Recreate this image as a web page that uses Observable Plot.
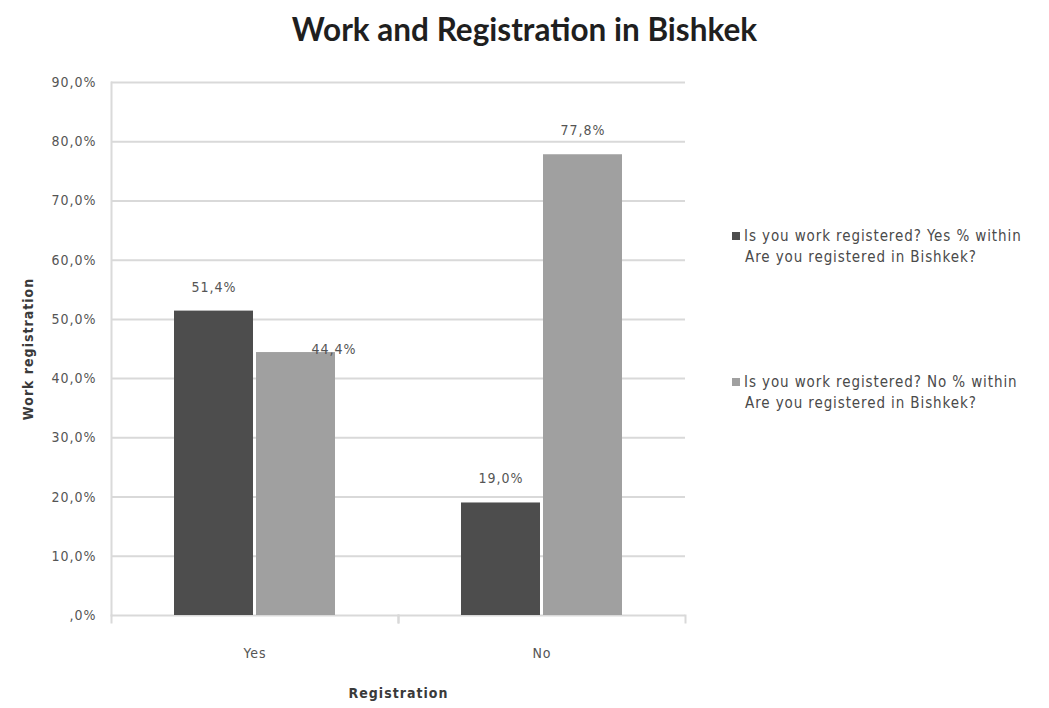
<!DOCTYPE html>
<html>
<head>
<meta charset="utf-8">
<script src="https://cdn.jsdelivr.net/npm/d3@7"></script>
<script src="https://cdn.jsdelivr.net/npm/@observablehq/plot@0.6"></script>
<style>
  html, body { margin: 0; padding: 0; background: #fff; }
  #wrap { position: relative; width: 1049px; height: 708px; overflow: hidden; }
  #title { position: absolute; left: 0; width: 1049px; top: 10px; text-align: center;
    font-family: Lato, "Open Sans", sans-serif; font-weight: bold; font-size: 31.5px; color: #1f1f1f; }
  .leg { position: absolute; left: 732px; font-family: "DejaVu Sans Condensed", "Liberation Sans Narrow", sans-serif;
    font-size: 15px; letter-spacing: 0.9px; color: #4a4a4a; line-height: 21px; }
  .leg .sw { display: inline-block; width: 8px; height: 8px; margin-right: 4px; vertical-align: 1px; }
  .leg .l2 { padding-left: 13px; }
  svg text { letter-spacing: 1px; }
</style>
</head>
<body>
<div id="wrap">
  <div id="title"></div>
  <div id="chart"></div>
  <div id="legend"></div>
</div>
<script>
const titleText = "Work and Registration in Bishkek";
const categories = ["Yes", "No"];
const seriesNames = ["Is you work registered? Yes % within", "Is you work registered? No % within"];
const seriesLine2 = "Are you registered in Bishkek?";
const seriesKeys = ["Yes", "No"];
const valuesYes = [51.4, 19.0]; // series "work registered: Yes" for Yes, No
const valuesNo = [44.4, 77.8];  // series "work registered: No" for Yes, No
const yTicks = [0, 10, 20, 30, 40, 50, 60, 70, 80, 90];
const colors = ["#4d4d4d", "#a0a0a0"];

const rows = [];
categories.forEach((c, i) => {
  rows.push({cat: c, s: seriesKeys[0], v: valuesYes[i]});
  rows.push({cat: c, s: seriesKeys[1], v: valuesNo[i]});
});
const fmt = d => (d === 0 ? ",0%" : d.toFixed(1).replace(".", ",") + "%");

document.getElementById("title").textContent = titleText;

const font = "'DejaVu Sans Condensed', 'Liberation Sans Narrow', sans-serif";
const labelMain = rows.filter(r => !(r.cat === "Yes" && r.s === "No"));
const labelShift = rows.filter(r => r.cat === "Yes" && r.s === "No");

const chart = Plot.plot({
  width: 1049,
  height: 708,
  marginTop: 82,
  marginBottom: 93,
  marginLeft: 110,
  marginRight: 364,
  style: {fontFamily: font, fontSize: "14px", color: "#555", background: "transparent"},
  fx: {domain: categories, padding: 0, label: null},
  x: {domain: seriesKeys, paddingInner: 0.04, paddingOuter: 0.77, axis: null},
  y: {domain: [0, 90], axis: null},
  color: {domain: seriesKeys, range: colors},
  marks: [
    Plot.ruleY(yTicks, {stroke: "#d9d9d9", strokeWidth: 2}),
    Plot.frame({anchor: "left", fx: () => categories[0], stroke: "#dadada", strokeWidth: 2}),
    Plot.frame({anchor: "left", stroke: "#d9d9d9", strokeWidth: 2, insetTop: 533, insetBottom: -7}),
    Plot.frame({anchor: "right", stroke: "#d9d9d9", strokeWidth: 2, insetTop: 533, insetBottom: -7}),
    Plot.axisY({ticks: yTicks, tickFormat: fmt, tickSize: 0, tickPadding: 15,
      label: null, fill: "#555", fontSize: 14}),
    Plot.axisY({ticks: [], label: "Work registration", labelAnchor: "center", labelArrow: "none", labelOffset: 88,
      fill: "#3a3a3a", fontSize: 14, fontWeight: "bold"}),
    Plot.axisFx({anchor: "bottom", tickSize: 0, tickPadding: 33, label: null, fill: "#555", fontSize: 14}),
    Plot.axisFx({anchor: "bottom", ticks: [], label: "Registration", labelAnchor: "center",
      labelArrow: "none", labelOffset: 82, fill: "#3a3a3a", fontSize: 14, fontWeight: "bold"}),
    Plot.barY(rows, {fx: "cat", x: "s", y: "v", fill: "s"}),
    Plot.text(labelMain, {fx: "cat", x: "s", y: "v", text: d => fmt(d.v), dy: -24, fill: "#555", fontSize: 14}),
    Plot.text(labelShift, {fx: "cat", x: "s", y: "v", text: d => fmt(d.v), dx: 38, dy: -3, fill: "#555", fontSize: 14})
  ]
});
document.getElementById("chart").appendChild(chart);

const leg = document.getElementById("legend");
[0, 1].forEach(i => {
  const d = document.createElement("div");
  d.className = "leg";
  d.style.top = (i === 0 ? 226 : 372) + "px";
  d.innerHTML = `<div><span class="sw" style="background:${colors[i]}"></span>${seriesNames[i]}</div><div class="l2">${seriesLine2}</div>`;
  leg.appendChild(d);
});
</script>
</body>
</html>
